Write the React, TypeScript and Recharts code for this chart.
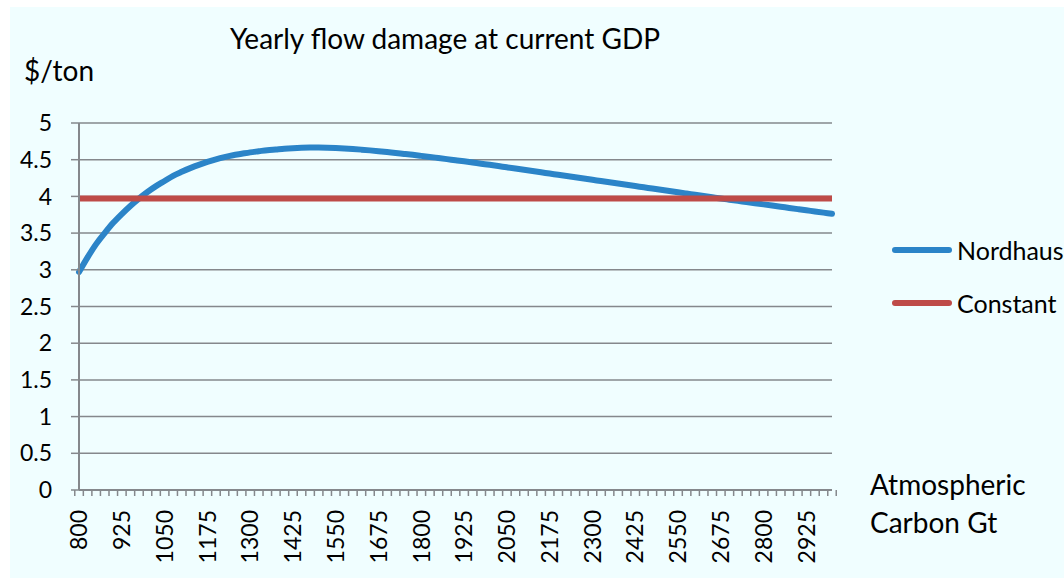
import { LineChart, Line, XAxis, YAxis, CartesianGrid } from "recharts";

// Atmospheric carbon (Gt), one category every 25 Gt
const carbonGt = [
  800, 825, 850, 875, 900, 925, 950, 975, 1000, 1025, 1050, 1075, 1100, 1125, 1150, 1175,
  1200, 1225, 1250, 1275, 1300, 1325, 1350, 1375, 1400, 1425, 1450, 1475, 1500, 1525, 1550,
  1575, 1600, 1625, 1650, 1675, 1700, 1725, 1750, 1775, 1800, 1825, 1850, 1875, 1900, 1925,
  1950, 1975, 2000, 2025, 2050, 2075, 2100, 2125, 2150, 2175, 2200, 2225, 2250, 2275, 2300,
  2325, 2350, 2375, 2400, 2425, 2450, 2475, 2500, 2525, 2550, 2575, 2600, 2625, 2650, 2675,
  2700, 2725, 2750, 2775, 2800, 2825, 2850, 2875, 2900, 2925, 2950, 2975, 3000,
];

// $/ton, Nordhaus damage function
const nordhausDamage = [
  2.97, 3.17, 3.35, 3.5, 3.64, 3.76, 3.87, 3.97, 4.06, 4.14, 4.21, 4.28, 4.335, 4.385, 4.43, 4.47,
  4.505, 4.535, 4.56, 4.58, 4.6, 4.615, 4.63, 4.64, 4.65, 4.657, 4.662, 4.665, 4.666, 4.664, 4.66,
  4.654, 4.646, 4.637, 4.627, 4.616, 4.604, 4.592, 4.579, 4.566, 4.552, 4.538, 4.523, 4.508, 4.493, 4.478,
  4.462, 4.446, 4.43, 4.413, 4.396, 4.379, 4.362, 4.345, 4.328, 4.311, 4.294, 4.277, 4.26, 4.243, 4.226,
  4.209, 4.192, 4.175, 4.158, 4.141, 4.124, 4.107, 4.09, 4.073, 4.056, 4.039, 4.022, 4.005, 3.988, 3.971,
  3.955, 3.939, 3.923, 3.907, 3.891, 3.875, 3.859, 3.843, 3.827, 3.811, 3.795, 3.779, 3.763,
];

// $/ton, constant damage
const constantDamage = [
  3.97, 3.97, 3.97, 3.97, 3.97, 3.97, 3.97, 3.97, 3.97, 3.97, 3.97, 3.97, 3.97, 3.97, 3.97, 3.97,
  3.97, 3.97, 3.97, 3.97, 3.97, 3.97, 3.97, 3.97, 3.97, 3.97, 3.97, 3.97, 3.97, 3.97, 3.97,
  3.97, 3.97, 3.97, 3.97, 3.97, 3.97, 3.97, 3.97, 3.97, 3.97, 3.97, 3.97, 3.97, 3.97, 3.97,
  3.97, 3.97, 3.97, 3.97, 3.97, 3.97, 3.97, 3.97, 3.97, 3.97, 3.97, 3.97, 3.97, 3.97, 3.97,
  3.97, 3.97, 3.97, 3.97, 3.97, 3.97, 3.97, 3.97, 3.97, 3.97, 3.97, 3.97, 3.97, 3.97, 3.97,
  3.97, 3.97, 3.97, 3.97, 3.97, 3.97, 3.97, 3.97, 3.97, 3.97, 3.97, 3.97, 3.97,
];

const yTicks = [0, 0.5, 1, 1.5, 2, 2.5, 3, 3.5, 4, 4.5, 5];

const seriesNames = ["Nordhaus", "Constant"];

const data = carbonGt.map((c, i) => ({
  carbon: c,
  nordhaus: nordhausDamage[i],
  constant: constantDamage[i],
}));

const FONT = "Lato, 'Open Sans', sans-serif";
const AXIS_GRAY = "#85888c";
const BLUE = "#2b84c8";
const RED = "#be4b48";
const SERIES_COLORS = [BLUE, RED];

const CHART_W = 1054;
const CHART_H = 571;
const MARGIN = { top: 116, right: 232, left: 0, bottom: 0 };
const Y_AXIS_W = 69;
const PLOT_W = CHART_W - MARGIN.right - MARGIN.left - Y_AXIS_W;
const HALF_BAND = PLOT_W / carbonGt.length / 2;

// tick marks sit between categories, labels on every 5th category
function CarbonTick(props: any) {
  const { x, y, payload } = props;
  const idx = carbonGt.indexOf(Number(payload.value));
  const last = idx === carbonGt.length - 1;
  return (
    <g>
      <line x1={x - HALF_BAND} x2={x - HALF_BAND} y1={y} y2={y + 6} stroke={AXIS_GRAY} strokeWidth={1.5} />
      {last && <line x1={x + HALF_BAND} x2={x + HALF_BAND} y1={y} y2={y + 6} stroke={AXIS_GRAY} strokeWidth={1.5} />}
      {idx % 5 === 0 && (
        <text
          transform={`translate(${x},${y + 20}) rotate(-90)`}
          textAnchor="end"
          dy="0.36em"
          fontSize={23}
          fontFamily={FONT}
          fill="#000"
        >
          {payload.value}
        </text>
      )}
    </g>
  );
}

const textStyle = { position: "absolute" as const, fontFamily: FONT, color: "#000", whiteSpace: "nowrap" as const };

export default function App() {
  return (
    <div style={{ position: "absolute", left: 0, top: 0, width: 1064, height: 580, background: "#fff", overflow: "hidden" }}>
      <div style={{ position: "absolute", left: 10, top: 7, width: CHART_W, height: CHART_H, background: "#f0feff" }}>
        <div style={{ ...textStyle, left: 0, width: 870, top: 15, textAlign: "center", fontSize: 28, lineHeight: 1.2 }}>
          Yearly flow damage at current GDP
        </div>
        <div style={{ ...textStyle, left: 14, top: 47, fontSize: 28, lineHeight: 1.2 }}>$/ton</div>
        <div style={{ ...textStyle, left: 860, top: 458, fontSize: 28, lineHeight: "38px" }}>
          Atmospheric
          <br />
          Carbon Gt
        </div>
        <div style={{ ...textStyle, left: 882, top: 216, fontSize: 25 }}>
          {seriesNames.map((name, i) => (
            <div key={name} style={{ display: "flex", alignItems: "center", height: 53 }}>
              <span
                style={{ display: "inline-block", width: 60, height: 6, borderRadius: 3, background: SERIES_COLORS[i], marginRight: 5 }}
              />
              <span>{name}</span>
            </div>
          ))}
        </div>
        <LineChart width={CHART_W} height={CHART_H} data={data} margin={MARGIN}>
          <CartesianGrid vertical={false} stroke={AXIS_GRAY} strokeWidth={1.5} />
          <XAxis
            dataKey="carbon"
            interval={0}
            height={88}
            tickSize={0}
            tickMargin={0}
            tickLine={false}
            axisLine={{ stroke: AXIS_GRAY, strokeWidth: 2 }}
            tick={<CarbonTick />}
          />
          <YAxis
            domain={[0, 5]}
            ticks={yTicks}
            interval={0}
            width={Y_AXIS_W}
            tickSize={8}
            tickMargin={19}
            axisLine={{ stroke: AXIS_GRAY, strokeWidth: 2 }}
            tickLine={{ stroke: AXIS_GRAY, strokeWidth: 1.5 }}
            tick={{ fontSize: 23, fontFamily: FONT, fill: "#000" }}
          />
          <Line
            type="monotone"
            dataKey="nordhaus"
            name={seriesNames[0]}
            stroke={BLUE}
            strokeWidth={6}
            strokeLinecap="round"
            dot={false}
            isAnimationActive={false}
          />
          <Line
            type="monotone"
            dataKey="constant"
            name={seriesNames[1]}
            stroke={RED}
            strokeWidth={6}
            dot={false}
            isAnimationActive={false}
          />
        </LineChart>
      </div>
    </div>
  );
}
